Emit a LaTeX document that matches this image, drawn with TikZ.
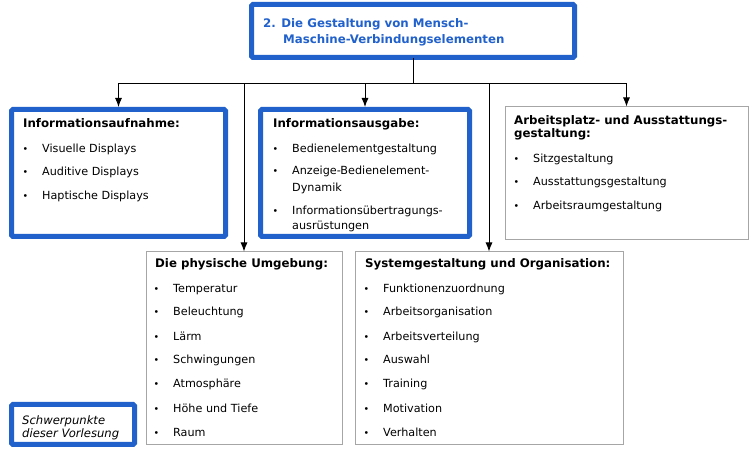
\documentclass[tikz,border=0pt]{standalone}
\usepackage{fontspec}
\setmainfont{DejaVu Sans}
\usetikzlibrary{arrows.meta}
\definecolor{frameblue}{RGB}{33,97,204}
\definecolor{thingray}{RGB}{166,166,166}
\tikzset{
  focusbox/.style={draw=frameblue, line width=5pt, rounded corners=1.5pt, fill=white},
  plainbox/.style={draw=thingray, line width=1pt, fill=white},
  headline/.style={anchor=base west, inner sep=0pt, text=frameblue, font=\bfseries\fontsize{11.8}{14}\selectfont},
  boxtitle/.style={anchor=base west, inner sep=0pt, font=\bfseries\fontsize{11.8}{14}\selectfont},
  entry/.style={anchor=base west, inner sep=0pt, font=\fontsize{11.2}{13}\selectfont},
  note/.style={anchor=base west, inner sep=0pt, font=\itshape\fontsize{11.6}{13}\selectfont},
  dot/.style={anchor=base, inner sep=0pt, font=\fontsize{9.5}{9.5}\selectfont},
  link/.style={draw=black, line width=0.9pt},
  linkarrow/.style={link, -{Latex[length=9pt,width=7pt]}}
}
% bullet plus entry text: name, text x, baseline y, text
\newcommand\listentry[4]{%
  \node[dot] (#1-dot) at (#2-16.5,#3-0.5) {\textbullet};
  \node[entry] (#1) at (#2,#3) {#4};}
\begin{document}
\begin{tikzpicture}[x=1pt,y=-1pt]
\useasboundingbox (0,0) rectangle (756,454);

% heading box
\draw[focusbox] (251.5,4.5) rectangle (574.5,57.5);
\node[inner sep=0pt, minimum width=323pt, minimum height=53pt] (top) at (413,31) {};
\node[headline] (top-l1) at (263,28) {2. Die Gestaltung von Mensch-};
\node[headline] (top-l2) at (283,44) {Maschine-Verbindungselementen};

% boxes of the first row
\node[focusbox, inner sep=0pt, minimum width=214pt, minimum height=127pt] (aufn) at (118.5,173) {};
\node[focusbox, inner sep=0pt, minimum width=209pt, minimum height=127pt] (ausg) at (365,173) {};
\node[plainbox, inner sep=0pt, minimum width=243pt, minimum height=133pt] (arb) at (626.5,173.5) {};

% boxes of the second row
\node[plainbox, inner sep=0pt, minimum width=196pt, minimum height=193pt] (phys) at (244,348.5) {};
\node[plainbox, inner sep=0pt, minimum width=268pt, minimum height=193pt] (sys) at (489,348.5) {};

% legend box
\node[focusbox, inner sep=0pt, minimum width=123pt, minimum height=40pt] (legend) at (73,424.5) {};
\node[note] (legend-l1) at (22,425) {Schwerpunkte};
\node[note] (legend-l2) at (22,438) {dieser Vorlesung};

% connectors
\coordinate (hub) at (413,83);
\draw[link] (top.south) -- (hub);
\draw[linkarrow] (hub) -| (aufn.north);
\draw[linkarrow] (hub) -| (phys.north);
\draw[linkarrow] (hub) -| (ausg.north);
\draw[linkarrow] (hub) -| (sys.north);
\draw[linkarrow] (hub) -| (arb.north);

% Informationsaufnahme
\node[boxtitle] (aufn-t) at (23,128) {Informationsaufnahme:};
\listentry{aufn-1}{42}{153}{Visuelle Displays}
\listentry{aufn-2}{42}{176}{Auditive Displays}
\listentry{aufn-3}{42}{200}{Haptische Displays}

% Informationsausgabe
\node[boxtitle] (ausg-t) at (273,128) {Informationsausgabe:};
\listentry{ausg-1}{292}{153}{Bedienelementgestaltung}
\listentry{ausg-2}{292}{175}{Anzeige-Bedienelement-}
\node[entry] (ausg-2b) at (292,192) {Dynamik};
\listentry{ausg-3}{292}{215}{Informationsübertragungs-}
\node[entry] (ausg-3b) at (292,230) {ausrüstungen};

% Arbeitsplatz- und Ausstattungsgestaltung
\node[boxtitle] (arb-t1) at (514,125) {Arbeitsplatz- und Ausstattungs-};
\node[boxtitle] (arb-t2) at (514,138) {gestaltung:};
\listentry{arb-1}{533}{163}{Sitzgestaltung}
\listentry{arb-2}{533}{186}{Ausstattungsgestaltung}
\listentry{arb-3}{533}{210}{Arbeitsraumgestaltung}

% Die physische Umgebung
\node[boxtitle] (phys-t) at (155,268) {Die physische Umgebung:};
\listentry{phys-1}{173}{293}{Temperatur}
\listentry{phys-2}{173}{316}{Beleuchtung}
\listentry{phys-3}{173}{341}{Lärm}
\listentry{phys-4}{173}{364}{Schwingungen}
\listentry{phys-5}{173}{388}{Atmosphäre}
\listentry{phys-6}{173}{413}{Höhe und Tiefe}
\listentry{phys-7}{173}{437}{Raum}

% Systemgestaltung und Organisation
\node[boxtitle] (sys-t) at (365,268) {Systemgestaltung und Organisation:};
\listentry{sys-1}{383}{293}{Funktionenzuordnung}
\listentry{sys-2}{383}{316}{Arbeitsorganisation}
\listentry{sys-3}{383}{341}{Arbeitsverteilung}
\listentry{sys-4}{383}{364}{Auswahl}
\listentry{sys-5}{383}{388}{Training}
\listentry{sys-6}{383}{413}{Motivation}
\listentry{sys-7}{383}{437}{Verhalten}
\end{tikzpicture}
\end{document}
